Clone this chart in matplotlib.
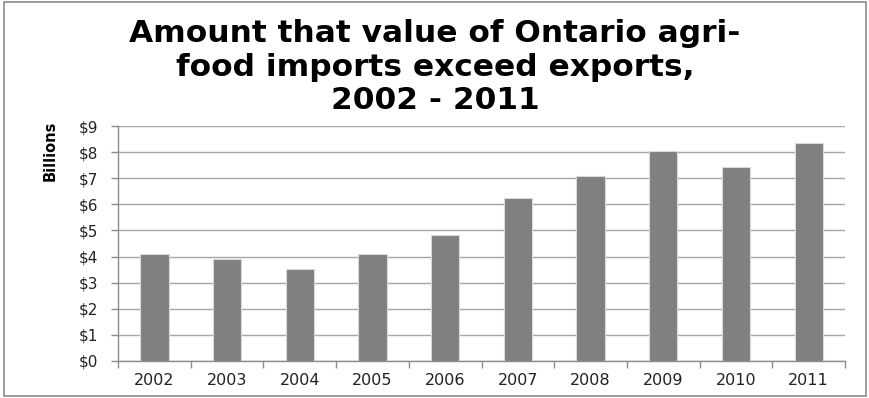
import matplotlib
matplotlib.use("Agg")
import matplotlib.pyplot as plt
from matplotlib.patches import Rectangle
from matplotlib.ticker import FixedLocator, NullFormatter

# Trade gap, billions of dollars
years = ["2002", "2003", "2004", "2005", "2006",
         "2007", "2008", "2009", "2010", "2011"]
gap_billions = [4.09, 3.92, 3.51, 4.09, 4.84, 6.26, 7.09, 8.03, 7.43, 8.35]
y_ticks = list(range(0, 10))

plt.rcParams['font.family'] = ['DejaVu Sans']

fig = plt.figure(figsize=(8.7, 3.98), dpi=100)
ax = fig.add_axes([0.1356, 0.093, 0.8357, 0.5904])

positions = list(range(len(years)))
ax.bar(positions, gap_billions, width=0.39, color="#808080",
       edgecolor="#d9d9d9", linewidth=0.8, zorder=3)

ax.set_xlim(-0.5, len(years) - 0.5)
ax.set_ylim(0, 9)
ax.set_yticks(y_ticks)
ax.set_yticklabels([f"${v}" for v in y_ticks], fontsize=11, color="#222222")

# year labels sit under each bar, tick marks sit between categories
ax.set_xticks(positions)
ax.set_xticklabels(years, fontsize=11.5, color="#222222")
ax.tick_params(axis="x", which="major", length=0, pad=9)
ax.xaxis.set_minor_locator(FixedLocator([p - 0.5 for p in positions] + [len(years) - 0.5]))
ax.xaxis.set_minor_formatter(NullFormatter())
ax.tick_params(axis="x", which="minor", length=5, color="#8c8c8c", width=1)
ax.tick_params(axis="y", length=5, color="#8c8c8c", width=1, pad=9)

ax.grid(axis="y", color="#a6a6a6", linewidth=1, zorder=0)
for side in ("top", "right"):
    ax.spines[side].set_visible(False)
for side in ("left", "bottom"):
    ax.spines[side].set_color("#8c8c8c")
    ax.spines[side].set_linewidth(1)

# axis caption sits up near the top of the value axis
fig.text(50 / 870, 1 - 151 / 398, "Billions", rotation=90, ha="center", va="center",
         family=["Liberation Sans Narrow", "DejaVu Sans Condensed", "DejaVu Sans"],
         fontweight="bold", fontsize=10.5)

fig.text(0.5, 0.952, "Amount that value of Ontario agri-\nfood imports exceed exports,\n2002 - 2011",
         ha="center", va="top", fontsize=22.5, fontweight="bold",
         linespacing=1.2, color="black")

# light frame around the chart
fig.patches.append(Rectangle((0.005, 0.006), 0.99, 0.99, transform=fig.transFigure,
                             fill=False, edgecolor="#8c8c8c", linewidth=1.2))

fig.savefig("out.png", dpi=100)
